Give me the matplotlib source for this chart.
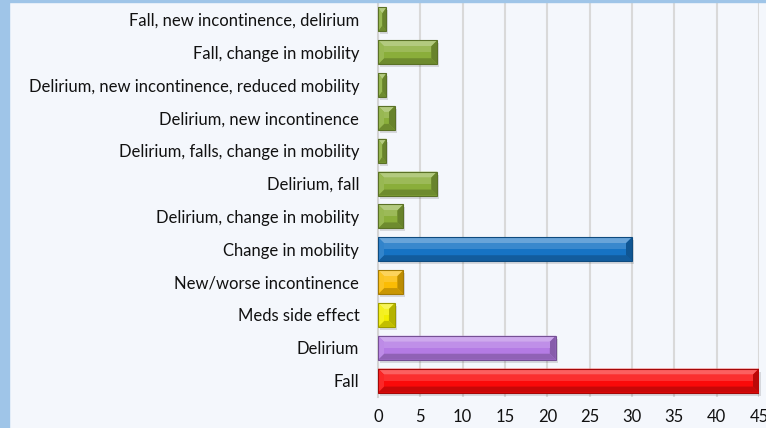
import numpy as np
import matplotlib
matplotlib.use('Agg')
import matplotlib.pyplot as plt
from matplotlib.patches import Polygon, Rectangle
from matplotlib.colors import to_rgb

# categories listed bottom to top, the way barh draws them
categories = ['Fall', 'Delirium', 'Meds side effect', 'New/worse incontinence',
              'Change in mobility', 'Delirium, change in mobility', 'Delirium, fall',
              'Delirium, falls, change in mobility', 'Delirium, new incontinence',
              'Delirium, new incontinence, reduced mobility', 'Fall, change in mobility',
              'Fall, new incontinence, delirium']
counts = [45, 21, 2, 3, 30, 3, 7, 1, 2, 1, 7, 1]
bar_colors = ['#fa0a0a', '#b47be4', '#f2ee00', '#fbbc04', '#1673c4', '#8aae3a',
              '#8aae3a', '#8aae3a', '#8aae3a', '#8aae3a', '#8aae3a', '#8aae3a']
x_ticks = [0, 5, 10, 15, 20, 25, 30, 35, 40, 45]

plt.rcParams['font.family'] = ['Lato', 'DejaVu Sans']
bg = '#f4f7fc'

fig = plt.figure(figsize=(7.66, 4.28), dpi=100, facecolor=bg)
ax = fig.add_axes([378 / 766, 31 / 428, 381 / 766, 394 / 428])
ax.set_facecolor(bg)

# blue border strip on the left and thin line on top
fig.patches.append(Rectangle((0, 0), 9 / 766, 1, transform=fig.transFigure, color='#9fc5e8', zorder=0))
fig.patches.append(Rectangle((0, 1 - 1.5 / 428), 1, 1.5 / 428, transform=fig.transFigure, color='#9fc5e8', zorder=0))

ypos = np.arange(len(categories))
bars = ax.barh(ypos, counts, height=0.73, color=bar_colors, zorder=3)

ax.set_xlim(0, 45)
ax.set_ylim(-0.5, len(categories) - 0.5)
ax.set_xticks(x_ticks)
ax.set_yticks(ypos)
ax.set_yticklabels(categories)
ax.tick_params(axis='y', length=0, pad=13.5, labelsize=12, labelcolor='#111111')
ax.tick_params(axis='x', length=0, pad=9, labelsize=12, labelcolor='#111111')
for s in ['top', 'right', 'bottom']:
    ax.spines[s].set_visible(False)
ax.spines['left'].set_color('#d4d4d4')
ax.spines['left'].set_linewidth(1.5)
ax.grid(axis='x', color='#d9d9d9', linewidth=1.5)
ax.set_axisbelow(True)


def shade(c, f):
    r, g, b = to_rgb(c)
    if f > 0:
        return (r + (1 - r) * f, g + (1 - g) * f, b + (1 - b) * f)
    return (r * (1 + f), g * (1 + f), b * (1 + f))


# bevel look: work out pixel sizes from the axis scale
fig.canvas.draw()
px_x = ax.transData.transform((1, 0))[0] - ax.transData.transform((0, 0))[0]
px_y = ax.transData.transform((0, 1))[1] - ax.transData.transform((0, 0))[1]
for bar, col in zip(bars, bar_colors):
    x0, y0 = bar.get_x(), bar.get_y()
    w, h = bar.get_width(), bar.get_height()
    x1, y1 = x0 + w, y0 + h
    bx = min(6 / px_x, w / 2)
    by = min(6 / px_y, h / 2)
    # shadow
    ax.add_patch(Rectangle((x0 + 2 / px_x, y0 - 3 / px_y), w, h, color='#000000', alpha=0.12,
                           zorder=2, linewidth=0, clip_on=False))
    top = Polygon([(x0, y1), (x1, y1), (x1 - bx, y1 - by), (x0 + bx, y1 - by)],
                  color=shade(col, 0.35), zorder=4, linewidth=0)
    bot = Polygon([(x0, y0), (x1, y0), (x1 - bx, y0 + by), (x0 + bx, y0 + by)],
                  color=shade(col, -0.2), zorder=4, linewidth=0)
    left = Polygon([(x0, y0), (x0, y1), (x0 + bx, y1 - by), (x0 + bx, y0 + by)],
                   color=shade(col, 0.12), zorder=4, linewidth=0)
    right = Polygon([(x1, y0), (x1, y1), (x1 - bx, y1 - by), (x1 - bx, y0 + by)],
                    color=shade(col, -0.25), zorder=4, linewidth=0)
    for p in (top, bot, left, right):
        ax.add_patch(p)
    # light band across the upper half of the face
    ax.add_patch(Rectangle((x0 + bx, y0 + h * 0.5), max(w - 2 * bx, 0), h * 0.5 - by,
                           color=shade(col, 0.15), zorder=4, linewidth=0))
    ax.add_patch(Rectangle((x0, y0), w, h, fill=False, edgecolor=shade(col, -0.35),
                           linewidth=0.8, zorder=5))

plt.savefig('out.png', dpi=100, facecolor=bg)
